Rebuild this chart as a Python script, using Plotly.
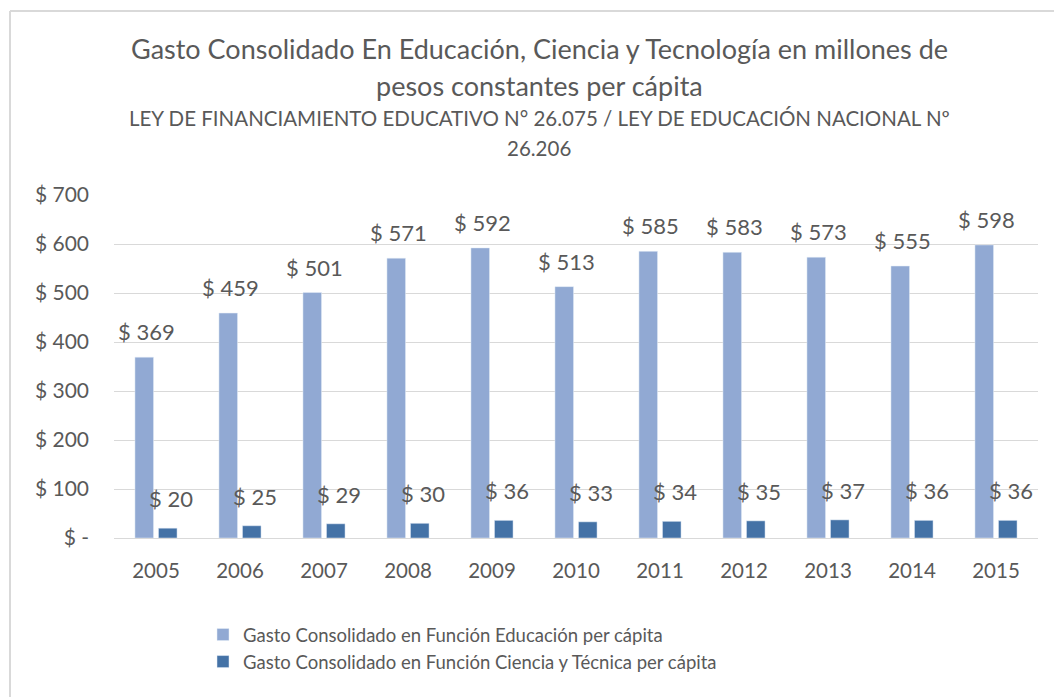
import plotly.graph_objects as go

years = ["2005", "2006", "2007", "2008", "2009", "2010", "2011", "2012", "2013", "2014", "2015"]
educacion = [369, 459, 501, 571, 592, 513, 585, 583, 573, 555, 598]
ciencia = [20, 25, 29, 30, 36, 33, 34, 35, 37, 36, 36]
ytick_vals = [0, 100, 200, 300, 400, 500, 600, 700]
ytick_text = ["$ -", "$ 100", "$ 200", "$ 300", "$ 400", "$ 500", "$ 600", "$ 700"]
name_edu = "Gasto Consolidado en Función Educación per cápita"
name_sci = "Gasto Consolidado en Función Ciencia y Técnica per cápita"

FONT = "Lato"
GRAY = "#595959"
C_EDU = "#91A9D3"
C_SCI = "#4472A6"

fig = go.Figure()
fig.add_trace(go.Bar(x=years, y=educacion, name=name_edu, marker_color=C_EDU))
fig.add_trace(go.Bar(x=years, y=ciencia, name=name_sci, marker_color=C_SCI))

L, T, W, H = 114, 195, 924, 343


def ypaper(pix):
    return (T + H - pix) / H


def xpaper(pix):
    return (pix - L) / W


annotations = []
# category axis: annotations are placed by category index
for i, v in enumerate(educacion):
    annotations.append(dict(x=i, y=v, xref="x", yref="y", text=f"$ {v}", showarrow=False,
                            xshift=-10, yshift=10, yanchor="bottom",
                            font=dict(family=FONT, size=22, color=GRAY)))
for i, v in enumerate(ciencia):
    annotations.append(dict(x=i, y=v, xref="x", yref="y", text=f"$ {v}", showarrow=False,
                            xshift=15, yshift=14, yanchor="bottom",
                            font=dict(family=FONT, size=22, color=GRAY)))

titles = [
    ("Gasto Consolidado En Educación, Ciencia y Tecnología en millones de", 48, 27),
    ("pesos constantes per cápita", 86, 27),
    ("LEY DE FINANCIAMIENTO EDUCATIVO N° 26.075 / LEY DE EDUCACIÓN NACIONAL Nº", 118, 20.5),
    ("26.206", 148, 20.5),
]
for txt, ypx, sz in titles:
    annotations.append(dict(x=xpaper(539), y=ypaper(ypx), xref="paper", yref="paper",
                            text=txt, showarrow=False, xanchor="center", yanchor="middle",
                            font=dict(family=FONT, size=sz, color=GRAY)))

fig.update_layout(
    width=1054, height=697,
    margin=dict(l=L, r=1054 - L - W, t=T, b=697 - T - H),
    paper_bgcolor="white", plot_bgcolor="white",
    barmode="group", bargap=0.44, bargroupgap=0.21,
    font=dict(family=FONT, color=GRAY),
    showlegend=True,
    legend=dict(orientation="v", x=xpaper(203), y=ypaper(616), xanchor="left", yanchor="top",
                font=dict(family=FONT, size=18.5, color=GRAY),
                bgcolor="rgba(0,0,0,0)"),
    annotations=annotations,
    shapes=[
        dict(type="line", xref="paper", yref="paper", x0=xpaper(10), x1=xpaper(1060),
             y0=ypaper(11), y1=ypaper(11), line=dict(color="#D9D9D9", width=2)),
        dict(type="line", xref="paper", yref="paper", x0=xpaper(10), x1=xpaper(10),
             y0=ypaper(11), y1=ypaper(705), line=dict(color="#D9D9D9", width=2)),
    ],
)
fig.update_xaxes(type="category", range=[-0.5, len(years) - 0.5], showgrid=False,
                 showline=True, linecolor="#D9D9D9", linewidth=1,
                 ticks="", tickfont=dict(family=FONT, size=20.5, color=GRAY),
                 ticklabelstandoff=14)
fig.update_yaxes(range=[0, 700], tickvals=ytick_vals, ticktext=ytick_text,
                 showgrid=True, gridcolor="#D9D9D9", gridwidth=1, zeroline=False,
                 showline=False, ticks="", tickfont=dict(family=FONT, size=21, color=GRAY),
                 ticklabelstandoff=24)

fig.write_html("out.html", config={"displayModeBar": False},
               post_script="document.body.style.margin='0';document.body.style.overflow='hidden';")
